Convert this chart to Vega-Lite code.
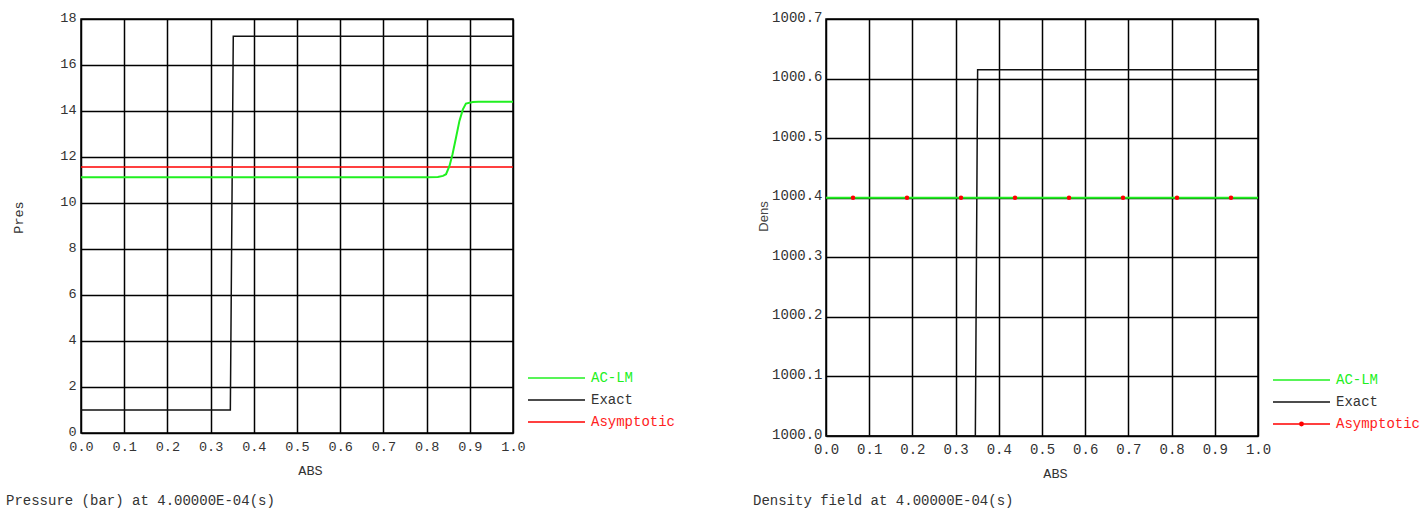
{
  "$schema": "https://vega.github.io/schema/vega-lite/v6.json",
  "padding": {"left": 5, "top": 9, "right": 5, "bottom": 5},
  "background": "white",
  "datasets": {
    "pres": [
      {"series": "Exact", "x": 0, "y": 1},
      {"series": "Exact", "x": 0.3457, "y": 1},
      {"series": "Exact", "x": 0.3525, "y": 17.25},
      {"series": "Exact", "x": 1, "y": 17.25},
      {"series": "Asymptotic", "x": 0, "y": 11.57},
      {"series": "Asymptotic", "x": 1, "y": 11.57},
      {"series": "AC-LM", "x": 0, "y": 11.12},
      {"series": "AC-LM", "x": 0.8, "y": 11.12},
      {"series": "AC-LM", "x": 0.826, "y": 11.13},
      {"series": "AC-LM", "x": 0.838, "y": 11.18},
      {"series": "AC-LM", "x": 0.845, "y": 11.25},
      {"series": "AC-LM", "x": 0.853, "y": 11.61},
      {"series": "AC-LM", "x": 0.86, "y": 12.12},
      {"series": "AC-LM", "x": 0.868, "y": 12.84},
      {"series": "AC-LM", "x": 0.876, "y": 13.57},
      {"series": "AC-LM", "x": 0.884, "y": 14.07},
      {"series": "AC-LM", "x": 0.891, "y": 14.32},
      {"series": "AC-LM", "x": 0.907, "y": 14.39},
      {"series": "AC-LM", "x": 0.92, "y": 14.4},
      {"series": "AC-LM", "x": 1, "y": 14.4}
    ],
    "dens": [
      {"series": "Exact", "x": 0, "y": 1000.0},
      {"series": "Exact", "x": 0.3457, "y": 1000.0},
      {"series": "Exact", "x": 0.351, "y": 1000.615},
      {"series": "Exact", "x": 1, "y": 1000.615},
      {"series": "Asymptotic", "x": 0.0625, "y": 1000.4},
      {"series": "Asymptotic", "x": 0.1875, "y": 1000.4},
      {"series": "Asymptotic", "x": 0.3125, "y": 1000.4},
      {"series": "Asymptotic", "x": 0.4375, "y": 1000.4},
      {"series": "Asymptotic", "x": 0.5625, "y": 1000.4},
      {"series": "Asymptotic", "x": 0.6875, "y": 1000.4},
      {"series": "Asymptotic", "x": 0.8125, "y": 1000.4},
      {"series": "Asymptotic", "x": 0.9375, "y": 1000.4},
      {"series": "AC-LM", "x": 0, "y": 1000.4},
      {"series": "AC-LM", "x": 1, "y": 1000.4}
    ]
  },
  "config": {
    "font": "Liberation Mono",
    "view": {"stroke": "#000000", "strokeWidth": 1.5},
    "axis": {
      "grid": true,
      "gridColor": "#000000",
      "gridWidth": 1.5,
      "gridOpacity": 1,
      "domain": false,
      "ticks": false,
      "labelFlush": false,
      "labelOverlap": false,
      "labelFont": "Liberation Mono",
      "labelFontSize": 13.5,
      "labelColor": "#333333",
      "titleFont": "Liberation Mono",
      "titleFontSize": 13.5,
      "titleFontWeight": "normal",
      "titleColor": "#333333"
    },
    "legend": {
      "orient": "none",
      "legendX": 446,
      "legendY": 349,
      "title": null,
      "symbolType": "stroke",
      "symbolSize": 3249,
      "symbolStrokeWidth": 1.5,
      "clipHeight": 20,
      "rowPadding": 2,
      "labelOffset": 5,
      "labelFont": "Liberation Mono",
      "labelFontSize": 14,
      "labelColor": {"expr": "datum.value === 'AC-LM' ? '#20f020' : datum.value === 'Asymptotic' ? '#ff2020' : '#333333'"},
      "padding": 0
    },
    "line": {"strokeWidth": 1.5},
    "concat": {"spacing": 313}
  },
  "bounds": "flush",
  "resolve": {
    "scale": {"color": "independent", "x": "independent", "y": "independent"},
    "legend": {"color": "independent"}
  },
  "hconcat": [
    {
      "width": 432,
      "height": 414,
      "title": {
        "text": "Pressure (bar) at 4.00000E-04(s)",
        "orient": "bottom",
        "anchor": "start",
        "frame": "group",
        "dx": -75,
        "offset": 17,
        "font": "Liberation Mono",
        "fontSize": 14,
        "fontWeight": "normal",
        "color": "#333333"
      },
      "data": {"name": "pres"},
      "encoding": {
        "x": {
          "field": "x", "type": "quantitative",
          "scale": {"domain": [0, 1], "nice": false},
          "axis": {
            "title": "ABS",
            "values": [0, 0.1, 0.2, 0.3, 0.4, 0.5, 0.6, 0.7, 0.8, 0.9, 1.0],
            "format": ".1f",
            "labelPadding": 6,
            "titleX": 229,
            "titleY": 37,
            "titleBaseline": "middle"
          }
        },
        "y": {
          "field": "y", "type": "quantitative",
          "scale": {"domain": [0, 18], "nice": false, "zero": false},
          "axis": {
            "title": "Pres",
            "values": [0, 2, 4, 6, 8, 10, 12, 14, 16, 18],
            "labelPadding": 5,
            "labelBaseline": "middle",
            "labelOffset": -2,
            "titleX": -63,
            "titleY": 198,
            "titleBaseline": "middle"
          }
        },
        "color": {
          "field": "series", "type": "nominal",
          "scale": {"domain": ["AC-LM", "Exact", "Asymptotic"], "range": ["#20f020", "#111111", "#ff0000"]},
          "legend": {}
        }
      },
      "layer": [
        {"transform": [{"filter": "datum.series === 'Exact'"}], "mark": {"type": "line"}},
        {"transform": [{"filter": "datum.series === 'Asymptotic'"}], "mark": {"type": "line"}},
        {"transform": [{"filter": "datum.series === 'AC-LM'"}], "mark": {"type": "line", "strokeWidth": 2}}
      ]
    },
    {
      "width": 432,
      "height": 417,
      "title": {
        "text": "Density field at 4.00000E-04(s)",
        "orient": "bottom",
        "anchor": "start",
        "frame": "group",
        "dx": -73,
        "offset": 14,
        "font": "Liberation Mono",
        "fontSize": 14,
        "fontWeight": "normal",
        "color": "#333333"
      },
      "data": {"name": "dens"},
      "encoding": {
        "x": {
          "field": "x", "type": "quantitative",
          "scale": {"domain": [0, 1], "nice": false},
          "axis": {
            "title": "ABS",
            "values": [0, 0.1, 0.2, 0.3, 0.4, 0.5, 0.6, 0.7, 0.8, 0.9, 1.0],
            "format": ".1f",
            "labelPadding": 6,
            "labelFontSize": 14,
            "titleX": 229,
            "titleY": 37,
            "titleBaseline": "middle"
          }
        },
        "y": {
          "field": "y", "type": "quantitative",
          "scale": {"domain": [1000.0, 1000.7], "nice": false, "zero": false},
          "axis": {
            "title": "Dens",
            "values": [1000.0, 1000.1, 1000.2, 1000.3, 1000.4, 1000.5, 1000.6, 1000.7],
            "format": ".1f",
            "labelPadding": 4,
            "labelFontSize": 14,
            "labelBaseline": "middle",
            "labelOffset": -2,
            "titleFont": "Liberation Sans",
            "titleFontSize": 13,
            "titleColor": "#444444",
            "titleX": -63,
            "titleY": 197,
            "titleBaseline": "middle"
          }
        },
        "color": {
          "field": "series", "type": "nominal",
          "scale": {"domain": ["AC-LM", "Exact", "Asymptotic"], "range": ["#20f020", "#111111", "#ff0000"]},
          "legend": {
            "legendY": 351,
            "symbolType": {"expr": "datum.value === 'Asymptotic' ? 'M-1,0H1M-0.06,0A0.06,0.06 0 1,0 0.06,0A0.06,0.06 0 1,0 -0.06,0Z' : 'M-1,0H1'"},
            "symbolFillColor": {"expr": "datum.value === 'Asymptotic' ? '#ff0000' : 'transparent'"}
          }
        }
      },
      "layer": [
        {"transform": [{"filter": "datum.series === 'Exact'"}], "mark": {"type": "line"}},
        {"transform": [{"filter": "datum.series === 'AC-LM'"}], "mark": {"type": "line", "strokeWidth": 2}},
        {
          "transform": [{"filter": "datum.series === 'Asymptotic'"}],
          "mark": {"type": "point", "filled": true, "size": 20, "opacity": 1},
          "encoding": {"color": {"value": "#ff0000"}}
        }
      ]
    }
  ]
}
